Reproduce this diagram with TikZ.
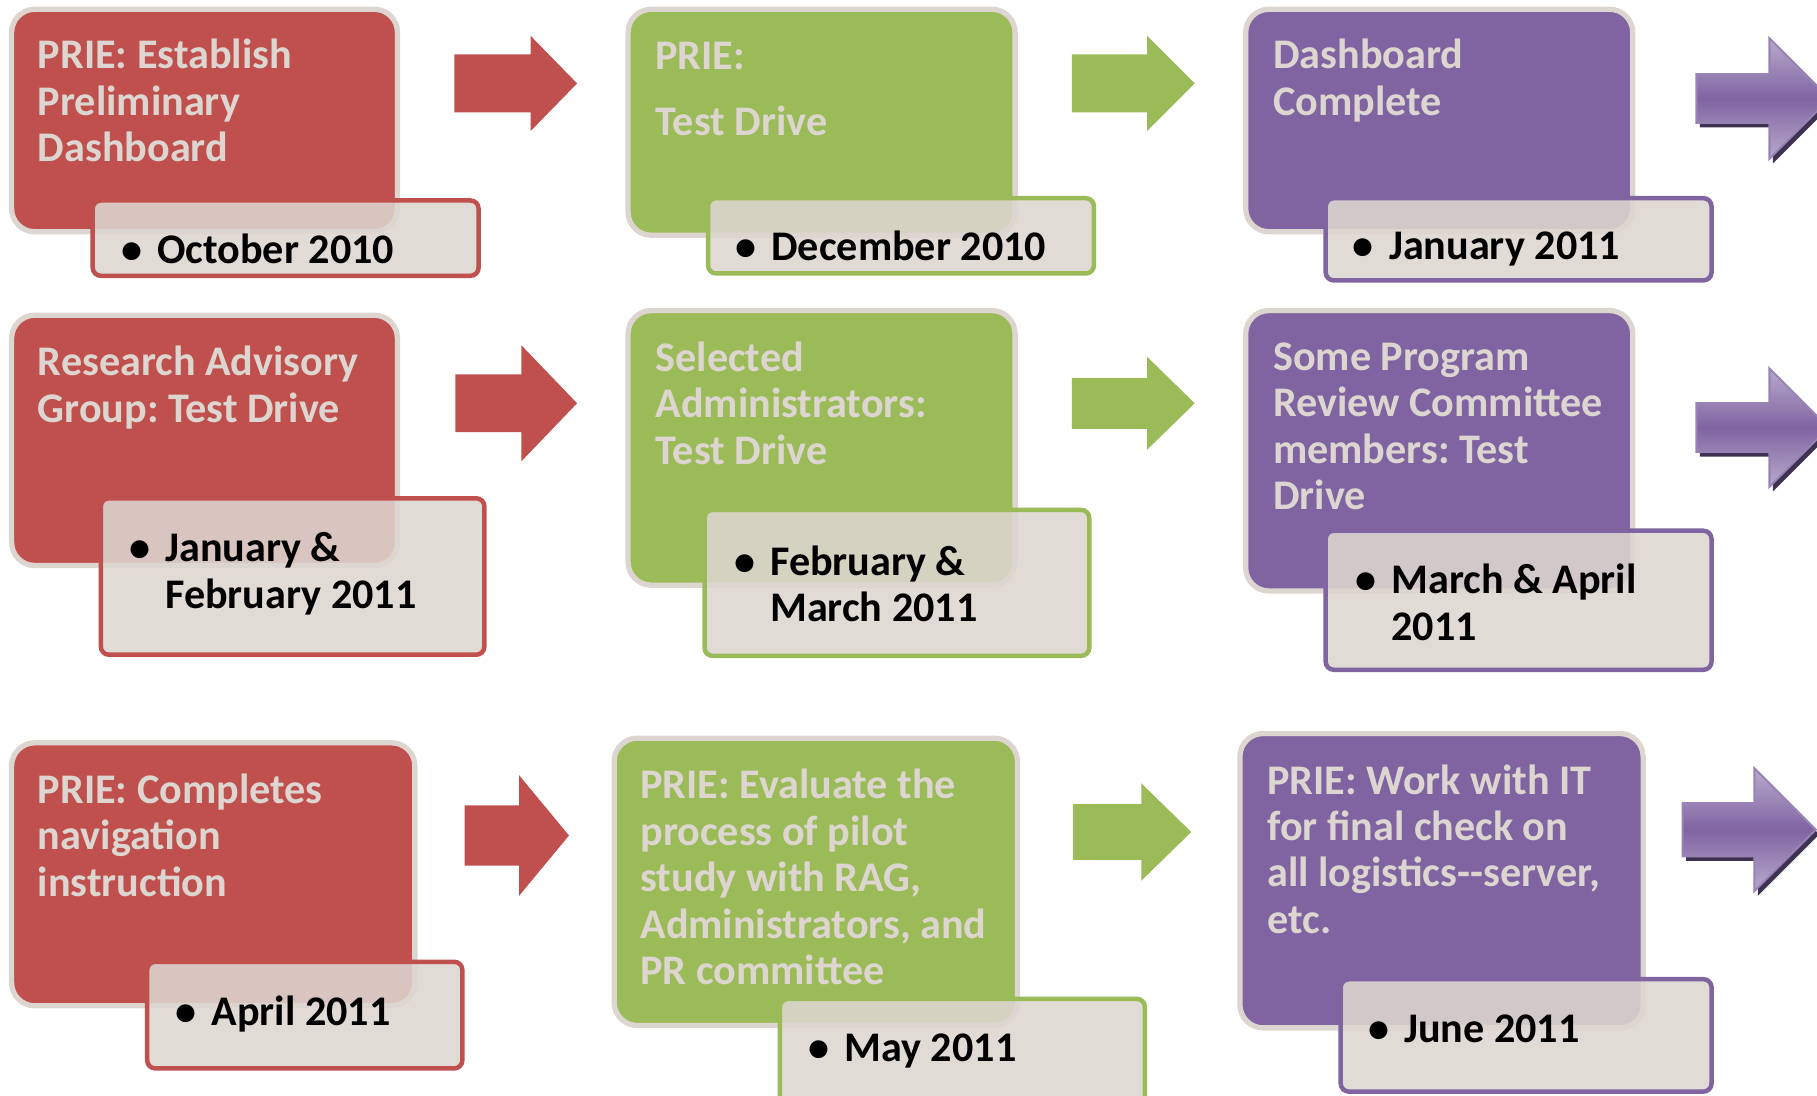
\documentclass[tikz,border=0pt]{standalone}
\usepackage{fontspec}
\setmainfont{Carlito}
\usetikzlibrary{positioning}
\frenchspacing

\definecolor{stepred}{HTML}{C0504D}
\definecolor{stepgreen}{HTML}{9BBB59}
\definecolor{steppurple}{HTML}{8064A2}
\definecolor{taupe}{RGB}{221,214,208}
\definecolor{purpleshadow}{HTML}{3F3151}

\begin{document}
\begin{tikzpicture}[x=0.01cm,y=-0.01cm,
  main box/.style={draw=taupe,line width=1.3pt,rounded corners=0.2cm,fill=#1},
  date box/.style={draw=#1,line width=1.1pt,rounded corners=0.07cm,fill=taupe,fill opacity=0.88},
  title/.style={anchor=north west,inner sep=0pt,align=left,text=taupe,
    font=\fontsize{10.35}{11.4}\selectfont\bfseries,execute at begin node=\rule{0pt}{0.3cm}},
  date/.style={anchor=north west,inner sep=0pt,align=left,
    font=\fontsize{10.35}{11.4}\selectfont\bfseries,execute at begin node=\rule{0pt}{0.3cm}}]
  \newcommand{\bul}{\llap{\textbullet\hspace{0.13cm}}}
  \clip (0,0) rectangle (1568,945);

  % row 1
  \path[main box=stepred]    (10,8)    rectangle (343,200);
  \path[date box=stepred]    (80,173)  rectangle (413,238);
  \path[main box=stepgreen]  (542,8)   rectangle (876,203);
  \path[date box=stepgreen]  (611,171) rectangle (944,236);
  \path[main box=steppurple] (1075,8)  rectangle (1409,200);
  \path[date box=steppurple] (1144,171) rectangle (1477,242);
  \node[title] (est)  at (32,33)    {PRIE: Establish\\Preliminary\\Dashboard};
  \node[date]  (oct)  at (135,197)  {\bul October 2010};
  \node[title] (prie) at (565,29)   {PRIE:};
  \node[title] (tdr)  at (565,86)   {Test Drive};
  \node[date]  (dec)  at (665,194)  {\bul December 2010};
  \node[title] (dash) at (1098,33)  {Dashboard\\Complete};
  \node[date]  (jan)  at (1198,193) {\bul January 2011};

  % row 2
  \path[main box=stepred]    (10,272)   rectangle (343,488);
  \path[date box=stepred]    (87,430)   rectangle (418,565);
  \path[main box=stepgreen]  (542,268)  rectangle (876,505);
  \path[date box=stepgreen]  (608,440)  rectangle (940,566);
  \path[main box=steppurple] (1075,268) rectangle (1409,510);
  \path[date box=steppurple] (1144,458) rectangle (1477,578);
  \node[title] (rag)    at (32,298)   {Research Advisory\\Group: Test Drive};
  \node[date]  (janfeb) at (142,459)  {\bul January \&\\February 2011};
  \node[title] (adm)    at (565,294)  {Selected\\Administrators:\\Test Drive};
  \node[date]  (febmar) at (664,470)  {\bul February \&\\March 2011};
  \node[title] (prc)    at (1098,295) {Some Program\\Review Committee\\members: Test\\Drive};
  \node[date]  (marapr) at (1200,486) {\bul March \& April\\2011};

  % row 3
  \path[main box=stepred]    (10,641)   rectangle (358,868);
  \path[date box=stepred]    (127,830)  rectangle (399,922);
  \path[main box=stepgreen]  (530,637)  rectangle (878,885);
  \path[date box=stepgreen]  (673,862)  rectangle (988,960);
  \path[main box=steppurple] (1070,633) rectangle (1418,887);
  \path[date box=steppurple] (1157,845) rectangle (1477,942);
  \node[title] (nav)  at (32,667)   {PRIE: Completes\\navigation\\instruction};
  \node[date]  (apr)  at (182,854)  {\bul April 2011};
  \node[title] (eval) at (552,663)  {PRIE: Evaluate the\\process of pilot\\study with RAG,\\Administrators, and\\PR committee};
  \node[date]  (may)  at (728,885)  {\bul May 2011};
  \node[title] (it)   at (1093,659) {PRIE: Work with IT\\for final check on\\all logistics-{}-server,\\etc.};
  \node[date]  (jun)  at (1211,869) {\bul June 2011};

  % flat arrows
  \foreach \c/\xa/\xb/\xc/\yc/\s/\h in {stepred/392/458/498/72/25/41, stepred/393/450/498/348/25/50,
      stepred/401/448/491/721/26/52, stepgreen/925/990/1031/72/25/41,
      stepgreen/925/990/1031/348/22/40, stepgreen/926/985/1028/718/24/42}
    \fill[\c] (\xa,\yc-\s) -- (\xb,\yc-\s) -- (\xb,\yc-\h) -- (\xc,\yc) -- (\xb,\yc+\h)
      -- (\xb,\yc+\s) -- (\xa,\yc+\s) -- cycle;

  % purple arrows with shadow
  \foreach \xa/\xb/\yc/\s/\h in {1464/1527/85/21/52, 1464/1527/369/21/51, 1452/1514/716/23/53} {
    \fill[purpleshadow] (\xa+3,\yc-\s+4) -- (\xb+3,\yc-\s+4) -- (\xb+3,\yc-\h+4) -- (\xb+\h+3,\yc+4)
      -- (\xb+3,\yc+\h+4) -- (\xb+3,\yc+\s+4) -- (\xa+3,\yc+\s+4) -- cycle;
    \shade[top color=steppurple!55!white,bottom color=steppurple!55!white,middle color=steppurple,
      draw=steppurple!80!white,line width=0.5pt]
      (\xa,\yc-\s) -- (\xb,\yc-\s) -- (\xb,\yc-\h) -- (\xb+\h,\yc) -- (\xb,\yc+\h)
      -- (\xb,\yc+\s) -- (\xa,\yc+\s) -- cycle;
  }
\end{tikzpicture}
\end{document}
